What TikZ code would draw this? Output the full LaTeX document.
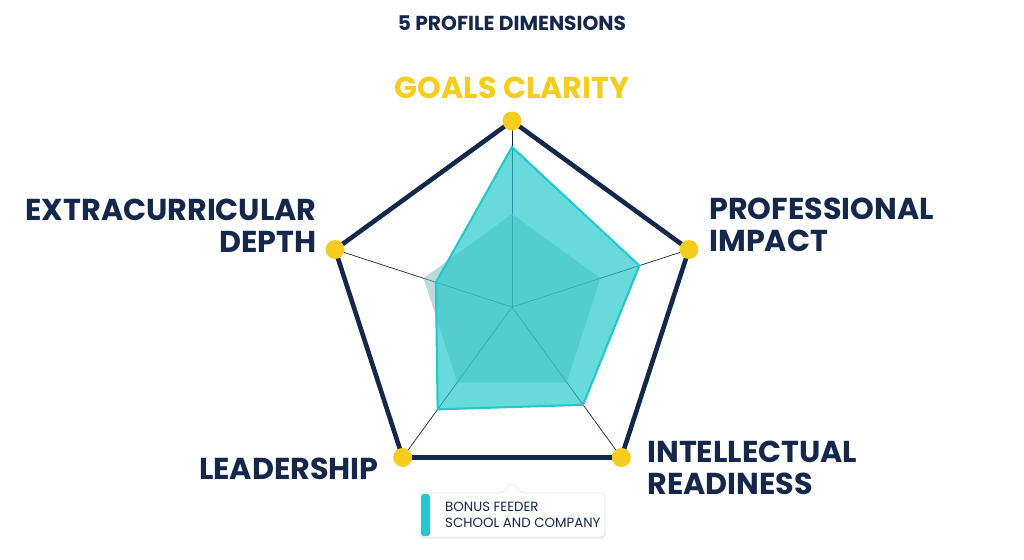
\documentclass[tikz,border=0pt]{standalone}
\usepackage{fontspec}
\setmainfont{Poppins}
\usetikzlibrary{calc,shadows}
\definecolor{navy}{HTML}{15284B}
\definecolor{gold}{HTML}{F5CC1F}
\definecolor{teal}{HTML}{22C8CA}
\begin{document}
\begin{tikzpicture}[x=0.02cm,y=-0.02cm,
    axislabel/.style={font=\fontsize{17.2}{18}\selectfont\bfseries, text=navy, align=left, inner sep=0pt},
    vertex/.style={circle, fill=gold, inner sep=0pt, minimum size=0.38cm}]

    % Frame of the picture
    \useasboundingbox (0,0) rectangle (1024,559);

    % Center of the chart
    \coordinate (O) at (512,307);

    % Outer pentagon corners
    \foreach \name/\ang in {goal/90, prof/18, intel/-54, lead/-126, extra/162}
        \coordinate (\name) at ($(O)+(\ang:186 and -186)$);

    % Spokes from the center
    \foreach \name in {goal, prof, intel, lead, extra}
        \draw[navy, thin] (O) -- (\name);

    % Reference profile (grey)
    \fill[gray!60!teal!70, opacity=0.55] ($(O)!0.5!(goal)$) -- ($(O)!0.5!(prof)$) -- ($(O)!0.5!(intel)$)
        -- ($(O)!0.5!(lead)$) -- ($(O)!0.5!(extra)$) -- cycle;

    % Candidate profile (teal)
    \draw[teal, line width=1.2pt, fill=teal, fill opacity=0.68]
        ($(O)!0.86!(goal)$) -- ($(O)!0.72!(prof)$) -- ($(O)!0.65!(intel)$)
        -- ($(O)!0.68!(lead)$) -- ($(O)!0.43!(extra)$) -- cycle;

    % Outer pentagon
    \draw[navy, line width=2.6pt, line join=round] (goal) -- (prof) -- (intel) -- (lead) -- (extra) -- cycle;

    % Yellow dots at the corners
    \foreach \name in {goal, prof, intel, lead, extra}
        \node[vertex] at (\name) {};

    % Title and axis labels
    \node[font=\fontsize{11.5}{12}\selectfont\bfseries, text=navy] (title) at (512,23) {5 PROFILE DIMENSIONS};
    \node[axislabel, text=gold] (lgoal) at (512,88) {GOALS CLARITY};
    \node[axislabel, anchor=west] (lprof) at (709,225) {PROFESSIONAL\\IMPACT};
    \node[axislabel, anchor=east, align=right] (lextra) at (317,226) {EXTRACURRICULAR\\DEPTH};
    \node[axislabel, anchor=east] (llead) at (379,469) {LEADERSHIP};
    \node[axislabel, anchor=west] (lintel) at (647,468) {INTELLECTUAL\\READINESS};

    % Callout below the chart
    \fill[white, drop shadow={opacity=0.12, shadow xshift=0pt, shadow yshift=-1pt}, rounded corners=2pt]
        (420,493) rectangle (605,537);
    \filldraw[white, draw=gray!20, rounded corners=2pt] (420,493) -- (502,493) -- (512,482) -- (522,493) -- (605,493)
        -- (605,537) -- (420,537) -- cycle;
    \fill[teal, rounded corners=1.5pt] (421,494) rectangle (430,536);
    \node[font=\fontsize{7.6}{9}\selectfont, text=navy, align=left, anchor=west] (bonus) at (439,515)
        {BONUS FEEDER\\SCHOOL AND COMPANY};

\end{tikzpicture}
\end{document}
